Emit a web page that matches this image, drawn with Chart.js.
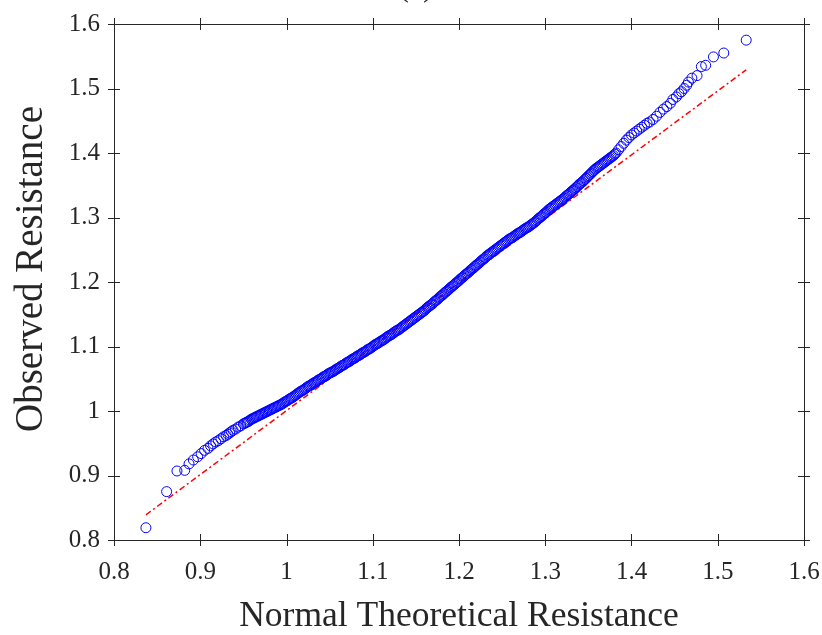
<!DOCTYPE html>
<html>
<head>
<meta charset="utf-8">
<script src="https://cdn.jsdelivr.net/npm/chart.js@4/dist/chart.umd.min.js"></script>
<style>
  body { margin: 0; background: #fff; }
  #wrap { width: 822px; height: 635px; position: relative; }
</style>
</head>
<body>
<div id="wrap"><canvas id="qqChart"></canvas></div>
<script>
// 정규 이론값 (x) - 하위 꼬리 / 밀집 구간 / 상위 꼬리
const theoX = [
  0.837,0.861,0.873,0.882,0.887,0.892,0.897,0.901,0.905,0.909,
  0.912,0.915,0.918,0.921,0.924,0.927,0.930,0.932,0.934,0.936,
  0.938,
  0.941,0.944,0.947,0.950,0.953,0.956,0.959,0.962,0.965,0.968,
  0.971,0.974,0.977,0.980,0.983,0.986,0.989,0.992,0.995,0.998,
  1.001,1.004,1.007,1.010,1.013,1.016,1.019,1.022,1.025,1.028,
  1.031,1.034,1.037,1.040,1.043,1.046,1.049,1.052,1.055,1.058,
  1.061,1.064,1.067,1.070,1.073,1.076,1.079,1.082,1.085,1.088,
  1.091,1.094,1.097,1.100,1.103,1.106,1.109,1.112,1.115,1.118,
  1.121,1.124,1.127,1.130,1.133,1.136,1.139,1.142,1.145,1.148,
  1.151,1.154,1.157,1.160,1.163,1.166,1.169,1.172,1.175,1.178,
  1.181,1.184,1.187,1.190,1.193,1.196,1.199,1.202,1.205,1.208,
  1.211,1.214,1.217,1.220,1.223,1.226,1.229,1.232,1.235,1.238,
  1.241,1.244,1.247,1.250,1.253,1.256,1.259,1.262,1.265,1.268,
  1.271,1.274,1.277,1.280,1.283,1.286,1.289,1.292,1.295,1.298,
  1.301,1.304,1.307,1.310,1.313,1.316,1.319,1.322,1.325,1.328,
  1.331,1.334,1.337,1.340,1.343,1.346,1.349,1.352,1.355,1.358,
  1.361,1.364,1.367,1.370,1.373,1.376,1.379,1.382,1.385,1.388,
  1.391,1.394,1.397,1.400,1.403,1.406,1.409,1.412,1.415,1.418,
  1.421,
  1.425,1.429,1.433,1.437,1.441,1.445,1.448,1.452,1.455,1.458,
  1.461,1.464,1.466,1.470,1.476,1.481,1.486,1.495,1.507,1.533
];

// 관측 저항값 (y)
const obsY = [
  0.819,0.875,0.907,0.908,0.918,0.924,0.929,0.934,0.939,0.942,
  0.946,0.949,0.952,0.954,0.957,0.960,0.962,0.964,0.966,0.968,
  0.970,
  0.972,0.975,0.977,0.980,0.982,0.984,0.987,0.989,0.991,0.993,
  0.995,0.997,0.999,1.001,1.003,1.005,1.007,1.009,1.011,1.014,
  1.016,1.019,1.021,1.024,1.027,1.030,1.032,1.035,1.038,1.040,
  1.043,1.045,1.048,1.050,1.053,1.055,1.058,1.060,1.062,1.065,
  1.067,1.070,1.072,1.075,1.077,1.080,1.082,1.085,1.087,1.090,
  1.092,1.095,1.097,1.100,1.103,1.105,1.108,1.110,1.113,1.116,
  1.118,1.121,1.124,1.126,1.129,1.132,1.135,1.138,1.141,1.144,
  1.147,1.150,1.153,1.156,1.160,1.163,1.166,1.170,1.173,1.177,
  1.180,1.184,1.187,1.191,1.194,1.198,1.201,1.205,1.208,1.212,
  1.215,1.219,1.222,1.226,1.229,1.233,1.236,1.240,1.243,1.246,
  1.249,1.252,1.255,1.258,1.261,1.264,1.267,1.269,1.272,1.275,
  1.277,1.280,1.283,1.285,1.288,1.291,1.294,1.298,1.301,1.305,
  1.308,1.312,1.315,1.318,1.321,1.324,1.327,1.330,1.334,1.337,
  1.341,1.344,1.348,1.352,1.355,1.359,1.363,1.367,1.371,1.375,
  1.378,1.381,1.384,1.387,1.390,1.393,1.396,1.400,1.405,1.410,
  1.415,1.420,1.424,1.428,1.431,1.434,1.437,1.440,1.443,1.446,
  1.448,
  1.452,1.457,1.463,1.468,1.472,1.477,1.483,1.487,1.492,1.495,
  1.500,1.505,1.510,1.516,1.520,1.534,1.536,1.549,1.555,1.575
];

// 가장 촘촘한 가운데 구간의 추가 점들 (x, y)
const denseX = [
  0.9515,0.9545,0.9575,0.9605,0.9635,0.9665,0.9695,
  0.9725,0.9755,0.9785,0.9815,0.9845,0.9875,0.9905,0.9935,0.9965,0.9995,
  1.0025,1.0055,1.0085,1.0115,1.0145,1.0175,1.0205,1.0235,1.0265,1.0295,
  1.0325,1.0355,1.0385,1.0415,1.0445,1.0475,1.0505,1.0535,1.0565,1.0595,
  1.0625,1.0655,1.0685,1.0715,1.0745,1.0775,1.0805,1.0835,1.0865,1.0895,
  1.0925,1.0955,1.0985,1.1015,1.1045,1.1075,1.1105,1.1135,1.1165,1.1195,
  1.1225,1.1255,1.1285,1.1315,1.1345,1.1375,1.1405,1.1435,1.1465,1.1495,
  1.1525,1.1555,1.1585,1.1615,1.1645,1.1675,1.1705,1.1735,1.1765,1.1795,
  1.1825,1.1855,1.1885,1.1915,1.1945,1.1975,1.2005,1.2035,1.2065,1.2095,
  1.2125,1.2155,1.2185,1.2215,1.2245,1.2275,1.2305,1.2335,1.2365,1.2395,
  1.2425,1.2455,1.2485,1.2515,1.2545,1.2575,1.2605,1.2635,1.2665,1.2695,
  1.2725,1.2755,1.2785,1.2815,1.2845,1.2875,1.2905,1.2935,1.2965,1.2995,
  1.3025,1.3055,1.3085,1.3115,1.3145,1.3175,1.3205,1.3235,1.3265,1.3295,
  1.3325,1.3355,1.3385,1.3415,1.3445,1.3475,1.3505,1.3535,1.3565,1.3595,
  1.3625,1.3655,1.3685,1.3715,1.3745,1.3775,1.3805
];
const denseY = [
  0.9810,0.9830,0.9855,0.9880,0.9900,0.9920,0.9940,
  0.9960,0.9980,1.0000,1.0020,1.0040,1.0060,1.0080,1.0100,1.0125,1.0150,
  1.0175,1.0200,1.0225,1.0255,1.0285,1.0310,1.0335,1.0365,1.0390,1.0415,
  1.0440,1.0465,1.0490,1.0515,1.0540,1.0565,1.0590,1.0610,1.0635,1.0660,
  1.0685,1.0710,1.0735,1.0760,1.0785,1.0810,1.0835,1.0860,1.0885,1.0910,
  1.0935,1.0960,1.0985,1.1015,1.1040,1.1065,1.1090,1.1115,1.1145,1.1170,
  1.1195,1.1225,1.1250,1.1275,1.1305,1.1335,1.1365,1.1395,1.1425,1.1455,
  1.1485,1.1515,1.1545,1.1580,1.1615,1.1645,1.1680,1.1715,1.1750,1.1785,
  1.1820,1.1855,1.1890,1.1925,1.1960,1.1995,1.2030,1.2065,1.2100,1.2135,
  1.2170,1.2205,1.2240,1.2275,1.2310,1.2345,1.2380,1.2415,1.2445,1.2475,
  1.2505,1.2535,1.2565,1.2595,1.2625,1.2655,1.2680,1.2705,1.2735,1.2760,
  1.2785,1.2815,1.2840,1.2865,1.2895,1.2925,1.2960,1.2995,1.3030,1.3065,
  1.3100,1.3135,1.3165,1.3195,1.3225,1.3255,1.3285,1.3320,1.3355,1.3390,
  1.3425,1.3460,1.3500,1.3535,1.3570,1.3610,1.3650,1.3690,1.3730,1.3765,
  1.3795,1.3825,1.3855,1.3885,1.3915,1.3945,1.3980
];

// 기준선 (빨간 일점쇄선) 양 끝점
const refX = [0.837, 1.533];
const refY = [0.839, 1.529];

// 축 눈금
const tickVals = [0.8, 0.9, 1.0, 1.1, 1.2, 1.3, 1.4, 1.5, 1.6];
const tickLabels = ['0.8', '0.9', '1', '1.1', '1.2', '1.3', '1.4', '1.5', '1.6'];

const xTitle = 'Normal Theoretical Resistance';
const yTitle = 'Observed Resistance';
const panelTitle = '(a)';

const AXIS_COLOR = '#262626';
const SERIF = "'Liberation Serif', 'Times New Roman', serif";

const qqPoints = theoX.map((v, i) => ({ x: v, y: obsY[i] }))
    .concat(denseX.map((v, i) => ({ x: v, y: denseY[i] })));

// MATLAB 스타일 박스 + 안팎으로 걸친 눈금선
const framePlugin = {
    id: 'frame',
    afterDatasetsDraw(chart) {
        const { ctx, chartArea: a, scales: { x, y } } = chart;
        const t = 6;
        ctx.save();
        ctx.strokeStyle = AXIS_COLOR;
        ctx.lineWidth = 1;
        ctx.strokeRect(Math.round(a.left) + 0.5, Math.round(a.top) + 0.5,
                       Math.round(a.right - a.left), Math.round(a.bottom - a.top));
        ctx.beginPath();
        tickVals.forEach(v => {
            const px = Math.round(x.getPixelForValue(v)) + 0.5;
            ctx.moveTo(px, a.bottom - t); ctx.lineTo(px, a.bottom + t);
            ctx.moveTo(px, a.top - t);    ctx.lineTo(px, a.top + t);
            const py = Math.round(y.getPixelForValue(v)) + 0.5;
            ctx.moveTo(a.left - t, py);   ctx.lineTo(a.left + t, py);
            ctx.moveTo(a.right - t, py);  ctx.lineTo(a.right + t, py);
        });
        ctx.stroke();
        ctx.restore();
    },
    afterDraw(chart) {
        const { ctx, chartArea: a } = chart;
        ctx.save();
        ctx.fillStyle = AXIS_COLOR;
        // y축 제목 (회전)
        ctx.font = '39px ' + SERIF;
        ctx.translate(42, (a.top + a.bottom) / 2 - 13);
        ctx.rotate(-Math.PI / 2);
        ctx.textAlign = 'center';
        ctx.textBaseline = 'alphabetic';
        ctx.fillText(yTitle, 0, 0);
        ctx.restore();

        // 위쪽이 잘린 패널 제목
        ctx.save();
        ctx.fillStyle = AXIS_COLOR;
        ctx.font = '32px ' + SERIF;
        ctx.textAlign = 'center';
        ctx.textBaseline = 'alphabetic';
        ctx.fillText(panelTitle, 416, -4);
        ctx.restore();
    }
};

const ctx = document.getElementById('qqChart').getContext('2d');
new Chart(ctx, {
    type: 'scatter',
    data: {
        datasets: [
            {
                label: 'data',
                data: qqPoints,
                showLine: false,
                pointStyle: 'circle',
                pointRadius: 5,
                pointHoverRadius: 5,
                borderColor: '#0000ff',
                backgroundColor: 'rgba(0,0,0,0)',
                borderWidth: 1,
                order: 1
            },
            {
                label: 'ref',
                type: 'line',
                data: refX.map((v, i) => ({ x: v, y: refY[i] })),
                borderColor: '#ff0000',
                borderWidth: 1.5,
                borderDash: [6, 3, 2, 3],
                pointRadius: 0,
                fill: false,
                order: 2
            }
        ]
    },
    options: {
        responsive: true,
        maintainAspectRatio: false,
        animation: false,
        layout: { padding: { top: 24, right: 18, left: 0, bottom: 0 } },
        plugins: {
            legend: { display: false },
            tooltip: { enabled: false }
        },
        scales: {
            x: {
                type: 'linear',
                min: 0.8,
                max: 1.6,
                afterBuildTicks: s => { s.ticks = tickVals.map(v => ({ value: v })); },
                afterFit: s => { s.height = 95; s.paddingLeft = 0; s.paddingRight = 0; },
                grid: { display: false, drawTicks: false },
                border: { display: false },
                ticks: {
                    padding: 17,
                    color: AXIS_COLOR,
                    font: { family: SERIF, size: 25 },
                    maxRotation: 0,
                    callback: (v, i) => tickLabels[i]
                },
                title: {
                    display: true,
                    text: xTitle,
                    color: AXIS_COLOR,
                    font: { family: SERIF, size: 35.5 },
                    padding: { top: 0, bottom: -3 }
                }
            },
            y: {
                type: 'linear',
                min: 0.8,
                max: 1.6,
                afterBuildTicks: s => { s.ticks = tickVals.map(v => ({ value: v })); },
                afterFit: s => { s.width = 114; s.paddingTop = 0; s.paddingBottom = 0; },
                grid: { display: false, drawTicks: false },
                border: { display: false },
                ticks: {
                    padding: 14,
                    color: AXIS_COLOR,
                    font: { family: SERIF, size: 25 },
                    callback: (v, i) => tickLabels[i]
                }
            }
        }
    },
    plugins: [framePlugin]
});
</script>
</body>
</html>
